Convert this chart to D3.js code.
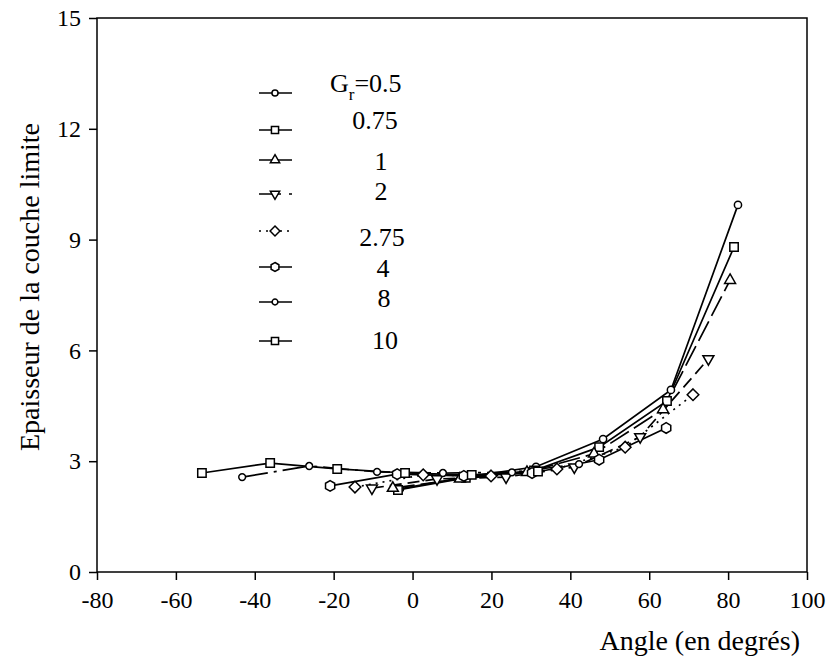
<!DOCTYPE html>
<html>
<head>
<meta charset="utf-8">
<script src="https://cdn.jsdelivr.net/npm/d3@7"></script>
<style>
  body { margin: 0; background: #fff; }
</style>
</head>
<body>
<div id="chart"></div>
<script>
// ============================
// Data
// ============================
const xTicks = [-80, -60, -40, -20, 0, 20, 40, 60, 80, 100];
const yTicks = [0, 3, 6, 9, 12, 15];

const grLabels = ["0.5", "0.75", "1", "2", "2.75", "4", "8", "10"];

const angle05  = [-3.2, 14, 31.3, 48.3, 65.5, 82.5];
const thick05  = [2.25, 2.58, 2.85, 3.6, 4.93, 9.94];
const angle075 = [-3.7, 13.5, 30.8, 47.3, 64.5, 81.5];
const thick075 = [2.22, 2.55, 2.75, 3.38, 4.63, 8.8];
const angle1   = [-5, 12, 29, 46, 63.5, 80.5];
const thick1   = [2.27, 2.52, 2.7, 3.2, 4.4, 7.9];
const angle2   = [-10.3, 6.2, 23.7, 41, 57.7, 75];
const thick2   = [2.27, 2.52, 2.57, 2.84, 3.66, 5.77];
const angle275 = [-14.6, 2.7, 19.9, 36.6, 53.9, 71.1];
const thick275 = [2.3, 2.63, 2.6, 2.79, 3.38, 4.8];
const angle4   = [-20.9, -3.9, 13, 30.3, 47.3, 64.3];
const thick4   = [2.33, 2.65, 2.6, 2.68, 3.04, 3.9];
const angle8   = [-43.2, -26.2, -9, 7.7, 25.2, 42.2];
const thick8   = [2.57, 2.87, 2.71, 2.68, 2.7, 2.92];
const angle10  = [-53.4, -36.1, -19.1, -1.9, 15, 31.8];
const thick10  = [2.68, 2.95, 2.79, 2.68, 2.63, 2.72];

// ============================
// Setup
// ============================
const width = 831, height = 669;
const margin = {left: 97, right: 24, top: 18, bottom: 97};
const serif = '"Liberation Serif", monospace';

const svg = d3.select("#chart").append("svg")
  .attr("width", width).attr("height", height);

const xscale = d3.scaleLinear().domain([-80, 100]).range([margin.left, width - margin.right]);
const yscale = d3.scaleLinear().domain([0, 15]).range([height - margin.bottom, margin.top]);

// hexagon, pointy top
function hexPath(r) {
  const pts = d3.range(6).map(k => {
    const a = -Math.PI / 2 + k * Math.PI / 3;
    return [r * Math.cos(a), r * Math.sin(a)];
  });
  return "M" + pts.map(p => p.join(",")).join("L") + "Z";
}

const shapes = {
  circle: r => d3.symbol(d3.symbolCircle, Math.PI * r * r)(),
  square: r => d3.symbol(d3.symbolSquare, 4 * r * r)(),
  triUp: r => d3.symbol(d3.symbolTriangle, 1.3 * r * r * 1.732)(),
  triDown: r => d3.symbol(d3.symbolTriangle, 1.3 * r * r * 1.732)(),
  diamond: r => "M0,-" + r + "L" + r + ",0L0," + r + "L-" + r + ",0Z",
  hex: r => hexPath(r)
};

const series = [
  {label: grLabels[0], xs: angle05,  ys: thick05,  shape: "circle",  r: 3.6, dash: null},
  {label: grLabels[1], xs: angle075, ys: thick075, shape: "square",  r: 4.2, dash: null},
  {label: grLabels[2], xs: angle1,   ys: thick1,   shape: "triUp",   r: 4.8, dash: "22,6"},
  {label: grLabels[3], xs: angle2,   ys: thick2,   shape: "triDown", r: 4.8, dash: "12,6"},
  {label: grLabels[4], xs: angle275, ys: thick275, shape: "diamond", r: 5.8, dash: "2,5"},
  {label: grLabels[5], xs: angle4,   ys: thick4,   shape: "hex",     r: 5.3, dash: null},
  {label: grLabels[6], xs: angle8,   ys: thick8,   shape: "circle",  r: 3.4, dash: "26,6,3,6"},
  {label: grLabels[7], xs: angle10,  ys: thick10,  shape: "square",  r: 4.2, dash: null}
];

const line = d3.line().x(d => xscale(d[0])).y(d => yscale(d[1]));

// ============================
// Axes and frame
// ============================
svg.append("rect")
  .attr("x", xscale(-80)).attr("y", yscale(15))
  .attr("width", xscale(100) - xscale(-80)).attr("height", yscale(0) - yscale(15))
  .attr("fill", "none").attr("stroke", "#000").attr("stroke-width", 1.5);

const xAxis = svg.append("g")
  .attr("transform", `translate(0,${yscale(0)})`)
  .call(d3.axisBottom(xscale).tickValues(xTicks).tickSize(8).tickPadding(11).tickFormat(d => String(d)));
const yAxis = svg.append("g")
  .attr("transform", `translate(${xscale(-80)},0)`)
  .call(d3.axisLeft(yscale).tickValues(yTicks).tickSize(8).tickPadding(8).tickFormat(d => String(d)));

[xAxis, yAxis].forEach(g => {
  g.attr("font-family", null).attr("font-size", null);
  g.select(".domain").remove();
  g.selectAll(".tick line").attr("stroke", "#000").attr("stroke-width", 1.5);
  g.selectAll(".tick text").attr("fill", "#000").style("font-size", "24px").style("font-family", serif);
});

svg.append("text")
  .attr("transform", `translate(39,${(yscale(0) + yscale(15)) / 2 - 8}) rotate(-90)`)
  .attr("text-anchor", "middle")
  .style("font-size", "28px")
  .style("font-family", serif)
  .text("Epaisseur de la couche limite");

svg.append("text")
  .attr("x", 800).attr("y", 650)
  .attr("text-anchor", "end")
  .style("font-size", "28px")
  .style("font-family", serif)
  .text("Angle (en degrés)");

// ============================
// Series
// ============================
const plot = svg.append("g");

series.forEach(s => {
  const pts = s.xs.map((x, i) => [x, s.ys[i]]);
  plot.append("path")
    .attr("d", line(pts))
    .attr("fill", "none")
    .attr("stroke", "#000")
    .attr("stroke-width", 1.7)
    .attr("stroke-dasharray", s.dash);
});

series.forEach(s => {
  const pts = s.xs.map((x, i) => [x, s.ys[i]]);
  plot.selectAll(null)
    .data(pts)
    .join("path")
    .attr("d", shapes[s.shape](s.r))
    .attr("transform", d => `translate(${xscale(d[0])},${yscale(d[1])})` + (s.shape === "triDown" ? " rotate(180)" : ""))
    .attr("fill", "#fff")
    .attr("stroke", "#000")
    .attr("stroke-width", 1.5);
});

// ============================
// Legend
// ============================
const legendRowsY = [93, 130, 160, 194, 231, 267, 302, 341];
const legendTextY = [92, 129, 170, 200, 246, 277, 307, 349];
const legendTextX = [330, 375, 381, 381, 382, 383, 384, 385];
const legend = svg.append("g");

series.forEach((s, i) => {
  const y = legendRowsY[i];
  legend.append("line")
    .attr("x1", 259).attr("x2", 292).attr("y1", y).attr("y2", y)
    .attr("stroke", "#000").attr("stroke-width", 1.7)
    .attr("stroke-dasharray", s.dash === "2,5" ? "2,5" : (s.dash === "12,6" ? "15,4,3,8" : null));
  legend.append("path")
    .attr("d", shapes[s.shape](s.r * 0.85))
    .attr("transform", `translate(275,${y})` + (s.shape === "triDown" ? " rotate(180)" : ""))
    .attr("fill", "#fff").attr("stroke", "#000").attr("stroke-width", 1.5);

  if (i === 0) {
    const t = legend.append("text")
      .attr("x", legendTextX[i]).attr("y", legendTextY[i])
      .style("font-size", "26px")
      .style("font-family", serif);
    t.append("tspan").text("G");
    t.append("tspan").style("font-size", "17px").attr("dy", 8).text("r");
    t.append("tspan").attr("dy", -8).text("=" + s.label);
  } else {
    legend.append("text")
      .attr("x", legendTextX[i]).attr("y", legendTextY[i])
      .attr("text-anchor", "middle")
      .style("font-size", "26px")
      .style("font-family", serif)
      .text(s.label);
  }
});
</script>
</body>
</html>
